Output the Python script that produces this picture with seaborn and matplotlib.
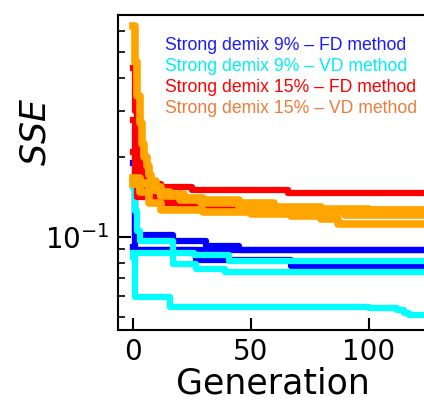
import numpy as np
import pandas as pd
import matplotlib
matplotlib.use('Agg')
import matplotlib.pyplot as plt
import seaborn as sns
from matplotlib.ticker import NullFormatter, LogLocator, FixedLocator

# Best SSE per run, as step breakpoints (generation, value)
fd9_gen = [[0, 1, 17, 31, 45, 125],
           [0, 1, 125],
           [0, 1, 27, 67, 125]]
fd9_sse = [[0.19, 0.102, 0.097, 0.0925, 0.0893, 0.0888],
           [0.16, 0.0895, 0.0886],
           [0.0915, 0.089, 0.0822, 0.0777, 0.0772]]

vd9_gen = [[0, 26, 41, 125],
           [0, 1, 2, 3, 17, 27, 39, 125],
           [0, 1, 16, 100, 112, 115, 117, 125]]
vd9_sse = [[0.0874, 0.0852, 0.0815, 0.0812],
           [0.155, 0.125, 0.105, 0.097, 0.0788, 0.0754, 0.0738, 0.0736],
           [0.084, 0.0591, 0.0542, 0.054, 0.0528, 0.0515, 0.0506, 0.0506]]

fd15_gen = [[0, 1, 2, 3, 4, 6, 12, 25, 66, 125],
            [0, 1, 2, 3, 5, 9, 20, 45, 80, 125],
            [0, 1, 2, 8, 20, 50, 125]]
fd15_sse = [[0.434, 0.30, 0.23, 0.19, 0.168, 0.158, 0.154, 0.150, 0.1466, 0.1466],
            [0.276, 0.20, 0.165, 0.15, 0.143, 0.137, 0.132, 0.128, 0.126, 0.126],
            [0.21, 0.16, 0.1415, 0.134, 0.1298, 0.1264, 0.123]]

vd15_gen = [[0, 1, 2, 3, 4, 5, 6, 7, 8, 10, 12, 16, 22, 30, 45, 60, 80, 100, 125],
            [0, 3, 7, 12, 20, 29, 45, 67, 90, 125],
            [0, 3, 7, 12, 30, 50, 67, 80, 87, 125]]
vd15_sse = [[0.625, 0.46, 0.34, 0.27, 0.225, 0.20, 0.185, 0.172, 0.163, 0.155, 0.148,
             0.145, 0.141, 0.138, 0.134, 0.130, 0.128, 0.1265, 0.126],
            [0.167, 0.160, 0.150, 0.143, 0.138, 0.134, 0.128, 0.124, 0.121, 0.1195],
            [0.158, 0.148, 0.135, 0.1264, 0.124, 0.122, 0.120, 0.117, 0.112, 0.112]]

labels = ['Strong demix 9% – FD method', 'Strong demix 9% – VD method',
          'Strong demix 15% – FD method', 'Strong demix 15% – VD method']
line_colors = ['#0000ff', '#00ffff', '#ff0000', '#ffa500']
text_colors = ['#1a1aff', '#00f0f0', '#ff0000', '#f07a3a']
widths = [4.5, 4.5, 4.5, 5.5]

# long table
rows = []
for lab, gens, sses in zip(labels,
                           [fd9_gen, vd9_gen, fd15_gen, vd15_gen],
                           [fd9_sse, vd9_sse, fd15_sse, vd15_sse]):
    for run, (g, s) in enumerate(zip(gens, sses)):
        for gi, si in zip(g, s):
            rows.append({'method': lab, 'run': run, 'Generation': gi, 'SSE': si})
df = pd.DataFrame(rows)

plt.rcParams['axes.linewidth'] = 1.5
plt.rcParams['axes.unicode_minus'] = False
fig = plt.figure(figsize=(4.24, 4.07), dpi=100)
ax = fig.add_axes([0.278, 0.189, 1.01 - 0.278, 0.963 - 0.189])

for lab, col, lw in zip(labels, line_colors, widths):
    sns.lineplot(data=df[df['method'] == lab], x='Generation', y='SSE',
                 units='run', estimator=None, color=col, lw=lw,
                 drawstyle='steps-post', ax=ax, legend=False)

ax.set_yscale('log')
ax.set_xlim(-6.2, 125.2)
ax.set_ylim(0.0445, 0.69)
ax.xaxis.set_major_locator(FixedLocator([0, 50, 100]))
ax.yaxis.set_major_locator(LogLocator(base=10))
ax.yaxis.set_minor_locator(LogLocator(base=10, subs=np.arange(2, 10)))
ax.yaxis.set_minor_formatter(NullFormatter())
ax.tick_params(which='major', direction='in', length=9, width=1.5,
               labelsize=20, pad=6)
ax.tick_params(which='minor', direction='in', length=5, width=1.2)
ax.spines['right'].set_visible(False)

ax.set_xlabel('Generation', fontsize=25, labelpad=0)
ax.set_ylabel('$SSE$', fontsize=25)
ax.yaxis.set_label_coords(-0.21, 0.63)

for i, (lab, col) in enumerate(zip(labels, text_colors)):
    fig.text(165 / 424, 1 - (45 + 21.3 * i) / 407, lab, color=col,
             fontsize=12.7, family='Liberation Sans', va='center', ha='left')

fig.savefig('out.png', dpi=100)
